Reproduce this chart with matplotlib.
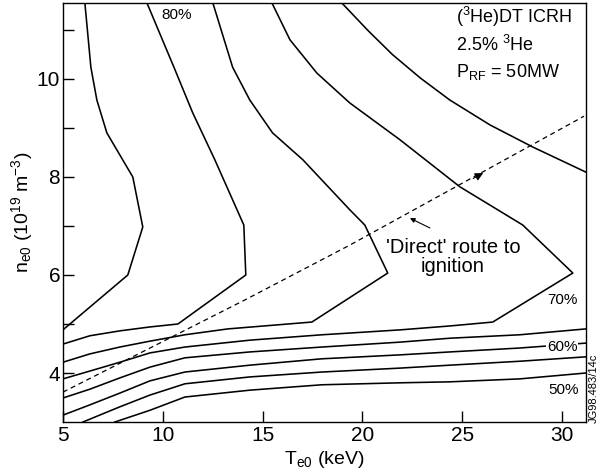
import numpy as np
import matplotlib
matplotlib.use('Agg')
import matplotlib.pyplot as plt

# -------------------------- 全局设置 --------------------------
plt.rcParams['font.family'] = ['Liberation Sans', 'DejaVu Sans']
plt.rcParams['mathtext.fontset'] = 'custom'
plt.rcParams['mathtext.rm'] = 'Liberation Sans'
plt.rcParams['mathtext.it'] = 'Liberation Sans:italic'
plt.rcParams['mathtext.default'] = 'regular'
plt.rcParams['axes.unicode_minus'] = False

# -------------------------- 数据--------------------------
# 上部闭合的等值线（从左到右）
c1_x = [6.10, 6.40, 6.70, 7.20, 8.50, 9.00, 8.25, 5.00]
c1_y = [11.55, 10.24, 9.57, 8.90, 8.00, 6.98, 6.00, 4.88]

c2_x = [9.21, 10.56, 11.50, 12.61, 14.06, 14.16, 10.76, 9.36, 7.85, 6.35, 5.00]
c2_y = [11.55, 10.24, 9.31, 8.35, 7.02, 6.00, 5.00, 4.94, 4.86, 4.76, 4.59]

c3_x = [12.51, 13.50, 14.36, 15.50, 17.02, 19.37, 20.12, 21.27, 17.47, 13.26, 11.11, 9.36, 7.85, 6.35, 5.00]
c3_y = [11.55, 10.24, 9.57, 8.90, 8.35, 7.33, 7.02, 6.04, 5.04, 4.90, 4.78, 4.65, 4.53, 4.39, 4.22]

c4_x = [15.47, 16.37, 17.72, 19.37, 21.88, 24.88, 28.03, 30.54, 26.53, 24.38, 21.88, 17.97, 14.36, 11.11, 9.36, 7.85, 6.35, 5.00]
c4_y = [11.55, 10.80, 10.12, 9.51, 8.76, 7.80, 7.02, 6.04, 5.04, 4.96, 4.88, 4.78, 4.67, 4.53, 4.41, 4.22, 4.04, 3.88]

c5_x = [18.97, 20.30, 21.50, 22.90, 24.38, 26.40, 28.54, 31.19]
c5_y = [11.55, 10.98, 10.50, 10.02, 9.57, 9.06, 8.61, 8.10]

# 下部开放的等值线
l4_x = [5.00, 6.35, 7.85, 9.36, 11.11, 14.36, 17.97, 21.88, 24.38, 27.88, 31.19]
l4_y = [3.49, 3.67, 3.90, 4.12, 4.31, 4.43, 4.53, 4.63, 4.71, 4.78, 4.90]
l5_x = [5.00, 6.35, 7.85, 9.36, 11.11, 14.36, 17.97, 21.88, 24.38, 27.88, 31.19]
l5_y = [3.14, 3.35, 3.59, 3.84, 4.02, 4.16, 4.29, 4.37, 4.43, 4.51, 4.61]
l6_x = [6.00, 7.85, 9.36, 11.11, 14.36, 17.97, 21.88, 24.38, 27.88, 31.19]
l6_y = [3.00, 3.31, 3.55, 3.78, 3.92, 4.02, 4.10, 4.16, 4.24, 4.33]
l7_x = [7.60, 9.36, 11.11, 14.36, 17.97, 21.88, 24.38, 27.88, 31.19]
l7_y = [3.00, 3.24, 3.51, 3.65, 3.76, 3.80, 3.82, 3.88, 4.00]

# 'Direct' route 虚线
route_x = [5.00, 14.11, 19.37, 31.10]
route_y = [3.61, 5.49, 6.61, 9.24]

# 百分比标注
pct_labels = ['80%', '70%', '60%', '50%']
pct_x = [10.7, 30.0, 30.0, 30.1]
pct_y = [11.31, 5.49, 4.53, 3.65]

x_ticks = [5, 10, 15, 20, 25, 30]
y_ticks = [4, 6, 8, 10]
y_minor = [5, 7, 9, 11]

# -------------------------- 绘图 --------------------------
fig = plt.figure(figsize=(6.05, 4.76), dpi=100)
ax = fig.add_axes([0.104, 0.1134, 0.8646, 0.8803])

lw = 1.15
for xs, ys in [(c1_x, c1_y), (c2_x, c2_y), (c3_x, c3_y), (c4_x, c4_y), (c5_x, c5_y),
               (l4_x, l4_y), (l5_x, l5_y), (l6_x, l6_y), (l7_x, l7_y)]:
    ax.plot(xs, ys, color='black', lw=lw, solid_joinstyle='round', clip_on=True)

ax.plot(route_x, route_y, color='black', lw=0.9, linestyle=(0, (4, 3)))
# 虚线上的箭头
ax.annotate('', xy=(26.05, 8.08), xytext=(25.55, 7.97),
            arrowprops=dict(arrowstyle='-|>', color='black', lw=0.8,
                            mutation_scale=12, shrinkA=0, shrinkB=0))
# 指向虚线的小箭头
ax.annotate('', xy=(22.38, 7.16), xytext=(23.38, 6.96),
            arrowprops=dict(arrowstyle='-|>', color='black', lw=0.8,
                            mutation_scale=7, shrinkA=0, shrinkB=0))
ax.text(24.53, 6.37, "'Direct' route to\nignition", ha='center', va='center',
        fontsize=14.5, linespacing=1.0)

for lab, px, py in zip(pct_labels, pct_x, pct_y):
    bbox = dict(facecolor='white', edgecolor='none', pad=0.5) if lab == '60%' else None
    ax.text(px, py, lab, ha='center', va='center', fontsize=11, bbox=bbox)

ax.text(24.7, 11.27, '($^{3}$He)DT ICRH', ha='left', va='center', fontsize=13)
ax.text(24.7, 10.69, '2.5% $^{3}$He', ha='left', va='center', fontsize=13)
ax.text(24.7, 10.14, 'P$_{RF}$ = 50MW', ha='left', va='center', fontsize=13)

fig.text(0.982, 0.185, 'JG98.483/14c', rotation=90, ha='center', va='center', fontsize=8)

ax.set_xlim(5, 31.2)
ax.set_ylim(3.0, 11.55)
ax.set_xticks(x_ticks)
ax.set_yticks(y_ticks)
ax.set_yticks(y_minor, minor=True)
ax.tick_params(axis='both', which='both', direction='in', length=8, width=1, labelsize=15)
ax.tick_params(axis='x', pad=3)
ax.tick_params(axis='y', pad=2)
ax.tick_params(top=False, right=False)

ax.set_xlabel('T$_{e0}$ (keV)', fontsize=14, labelpad=3)
ax.set_ylabel('n$_{e0}$ (10$^{19}$ m$^{-3}$)', fontsize=14, labelpad=1)

for s in ax.spines.values():
    s.set_linewidth(1.0)

fig.savefig('out.png', dpi=100)
